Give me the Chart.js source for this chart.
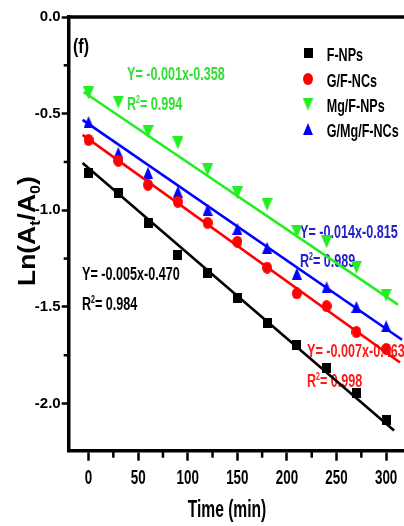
<!DOCTYPE html>
<html><head><meta charset="utf-8">
<script src="https://cdn.jsdelivr.net/npm/chart.js@4.4.1/dist/chart.umd.min.js"></script>
<style>html,body{margin:0;padding:0;background:#fff;overflow:hidden}canvas{display:block}</style>
</head><body>
<canvas id="c" width="404" height="526"></canvas>
<script>
// ---- data ----
const times = [0,30,60,90,120,150,180,210,240,270,300];
const fNPs    = [-0.806,-0.910,-1.065,-1.230,-1.323,-1.452,-1.581,-1.695,-1.814,-1.943,-2.083];
const gFNCs   = [-0.636,-0.744,-0.868,-0.956,-1.065,-1.163,-1.297,-1.430,-1.496,-1.630,-1.718];
const mgFNPs  = [-0.393,-0.440,-0.594,-0.651,-0.790,-0.910,-0.970,-1.111,-1.163,-1.295,-1.440];
const gMgFNCs = [-0.543,-0.703,-0.806,-0.904,-0.997,-1.096,-1.194,-1.328,-1.398,-1.500,-1.600];
// fitted lines: endpoints [x, y]
const fitFNPsX = [-6, 308],  fitFNPsY = [-0.755, -2.140];
const fitGFNCsX = [-6, 314], fitGFNCsY = [-0.610, -1.788];
const fitMgFNPsX = [-5, 312], fitMgFNPsY = [-0.388, -1.488];
const fitGMgFNCsX = [-6, 316], fitGMgFNCsY = [-0.532, -1.670];
const seriesNames = ['F-NPs','G/F-NCs','Mg/F-NPs','G/Mg/F-NCs'];
const fitEquations = ['Y= -0.005x-0.470','Y= -0.007x-0.463','Y= -0.001x-0.358','Y= -0.014x-0.815'];
const fitR2 = ['0.984','0.998','0.994','0.989'];
const xTickValues = [0,50,100,150,200,250,300];
const xTickLabels = ['0','50','100','150','200','250','300'];
const xMinorTicks = [25,75,125,175,225,275];
const yTickValues = [0,-0.5,-1.0,-1.5,-2.0];
const yTickLabels = ['0.0','-0.5','-1.0','-1.5','-2.0'];
const yMinorTicks = [-0.25,-0.75,-1.25,-1.75];
const panelLabel = '(f)';
const xTitle = 'Time (min)';

// ---- styles ----
const FONT = '"Liberation Sans", Arial, sans-serif';
const BLACK = '#000000', RED = '#ff0000', GREEN = '#22ee22', BLUE = '#0000ff';
const TEXTCOL = ['#000000', '#ff1a1a', '#33dd33', '#2222cc'];

function mk(w, h, draw) {
  const c = document.createElement('canvas'); c.width = w; c.height = h;
  draw(c.getContext('2d'), w, h); return c;
}
const mSquare = mk(9, 10, (g, w, h) => { g.fillStyle = BLACK; g.fillRect(0, 0, w, h); });
const mCircle = mk(10, 12, (g, w, h) => { g.fillStyle = RED; g.beginPath(); g.ellipse(w/2, h/2, w/2, h/2, 0, 0, 2*Math.PI); g.fill(); });
const mDown = mk(11, 13, (g, w, h) => { g.fillStyle = GREEN; g.beginPath(); g.moveTo(0, 0); g.lineTo(w, 0); g.lineTo(w/2, h); g.closePath(); g.fill(); });
const mUp = mk(10, 12, (g, w, h) => { g.fillStyle = BLUE; g.beginPath(); g.moveTo(w/2, 0); g.lineTo(w, h); g.lineTo(0, h); g.closePath(); g.fill(); });
const markers = [mSquare, mCircle, mDown, mUp];
const colors = [BLACK, RED, GREEN, BLUE];

const pts = (xs, ys) => xs.map((x, i) => ({x, y: ys[i]}));
const seriesY = [fNPs, gFNCs, mgFNPs, gMgFNCs];
const fitsX = [fitFNPsX, fitGFNCsX, fitMgFNPsX, fitGMgFNCsX];
const fitsY = [fitFNPsY, fitGFNCsY, fitMgFNPsY, fitGMgFNCsY];

const datasets = [];
for (let i = 0; i < 4; i++) {
  datasets.push({ label: seriesNames[i] + ' fit', data: pts(fitsX[i], fitsY[i]), showLine: true,
    borderColor: colors[i], borderWidth: 2.6, pointRadius: 0, fill: false });
}
for (let i = 0; i < 4; i++) {
  datasets.push({ label: seriesNames[i], data: pts(times, seriesY[i]), showLine: false,
    pointStyle: markers[i], pointRadius: 5, backgroundColor: colors[i], borderColor: colors[i] });
}

function sText(ctx, str, x, y, size, sx, color, align) {
  ctx.save();
  ctx.font = 'bold ' + size + 'px ' + FONT;
  ctx.fillStyle = color; ctx.textBaseline = 'alphabetic'; ctx.textAlign = align || 'left';
  ctx.translate(x, y); ctx.scale(sx, 1); ctx.fillText(str, 0, 0);
  const w = ctx.measureText(str).width * sx;
  ctx.restore();
  return w;
}

const annoPos = [[82, 280, 310], [307, 357, 387], [127, 80, 110], [300, 238, 267]];

const textPlugin = {
  id: 'texts',
  beforeDatasetsDraw(chart) {
    const ctx = chart.ctx;
    for (let i = 0; i < 4; i++) {
      const [x, y1, y2] = annoPos[i];
      sText(ctx, fitEquations[i], x, y1, 18, 0.70, TEXTCOL[i]);
      let w = sText(ctx, 'R', x, y2, 18, 0.70, TEXTCOL[i]);
      w += sText(ctx, '2', x + w, y2 - 7, 10, 0.70, TEXTCOL[i]);
      sText(ctx, '= ' + fitR2[i], x + w, y2, 18, 0.70, TEXTCOL[i]);
    }
  },
  afterDraw(chart) {
    const ctx = chart.ctx, ca = chart.chartArea;
    const xs = chart.scales.x, ys = chart.scales.y;
    // top frame line
    ctx.save(); ctx.strokeStyle = BLACK; ctx.lineWidth = 3.5;
    ctx.beginPath(); ctx.moveTo(ca.left - 1.5, ca.top); ctx.lineTo(ca.right + 2, ca.top); ctx.stroke();
    // minor ticks
    ctx.lineWidth = 2.5;
    yMinorTicks.forEach(v => { const p = ys.getPixelForValue(v); ctx.beginPath(); ctx.moveTo(ca.left - 5, p); ctx.lineTo(ca.left, p); ctx.stroke(); });
    xMinorTicks.forEach(v => { const p = xs.getPixelForValue(v); ctx.beginPath(); ctx.moveTo(p, ca.bottom); ctx.lineTo(p, ca.bottom + 7); ctx.stroke(); });
    ctx.restore();
    // x tick labels
    xTickValues.forEach((v, i) => sText(ctx, xTickLabels[i], xs.getPixelForValue(v), 484, 20, 0.67, BLACK, 'center'));
    // x title
    sText(ctx, xTitle, 227, 516.5, 24, 0.65, BLACK, 'center');
    // panel label
    sText(ctx, panelLabel, 73, 52.5, 20, 0.8, BLACK);
    // y title Ln(At/A0)
    ctx.save();
    ctx.translate(35, 286); ctx.rotate(-Math.PI / 2); ctx.scale(1.15, 1);
    ctx.fillStyle = BLACK; ctx.textBaseline = 'alphabetic';
    let x = 0;
    const part = (s, size, dy) => { ctx.font = 'bold ' + size + 'px ' + FONT; ctx.fillText(s, x, dy); x += ctx.measureText(s).width; };
    part('Ln(A', 23, 0); part('t', 14, 5); part('/A', 23, 0); part('0', 14, 5); part(')', 23, 0);
    ctx.restore();
    // legend
    const rows = [53, 79, 104, 129];
    for (let i = 0; i < 4; i++) {
      const m = markers[i];
      ctx.drawImage(m, 308 - m.width / 2, rows[i] - m.height / 2);
      sText(ctx, seriesNames[i], 326.7, rows[i] + 8, 18.5, 0.68, BLACK);
    }
  }
};

new Chart(document.getElementById('c'), {
  type: 'scatter',
  data: { datasets },
  options: {
    responsive: false, animation: false, devicePixelRatio: 1,
    layout: { autoPadding: false, padding: { top: 17, right: 0, left: 0, bottom: 0 } },
    plugins: { legend: { display: false }, tooltip: { enabled: false } },
    scales: {
      x: {
        type: 'linear', min: -20, max: 318,
        afterBuildTicks: s => { s.ticks = xTickValues.map(v => ({ value: v })); },
        afterFit: s => { s.height = 75.3; },
        ticks: { display: false },
        grid: { drawOnChartArea: false, drawTicks: true, tickLength: 10, tickWidth: 2.5, tickColor: BLACK },
        border: { display: true, width: 3.5, color: BLACK }
      },
      y: {
        type: 'linear', min: -2.244, max: 0,
        afterBuildTicks: s => { s.ticks = yTickValues.map(v => ({ value: v })); },
        afterFit: s => { s.width = 68.7; },
        ticks: { color: BLACK, padding: 1, font: { family: FONT, size: 15, weight: 'bold' },
          callback: (v, i) => yTickLabels[i] },
        grid: { drawOnChartArea: false, drawTicks: true, tickLength: 7, tickWidth: 2.5, tickColor: BLACK },
        border: { display: true, width: 3.5, color: BLACK }
      }
    }
  },
  plugins: [textPlugin]
});
</script>
</body></html>
